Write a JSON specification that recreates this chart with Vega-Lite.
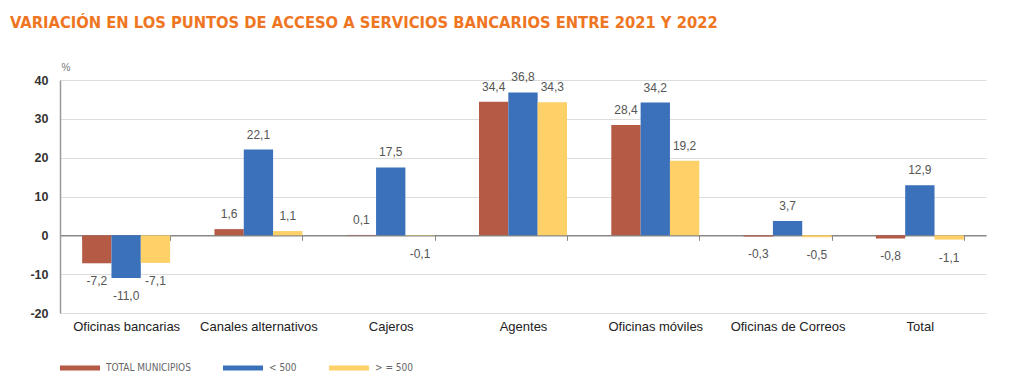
{
  "$schema": "https://vega.github.io/schema/vega-lite/v6.json",
  "width": 926,
  "height": 233,
  "autosize": {"type": "none"},
  "padding": {"left": 60, "top": 80, "right": 38, "bottom": 76},
  "background": "white",
  "config": {
    "locale": {"number": {"decimal": ",", "thousands": ".", "grouping": [3], "currency": ["", " €"], "minus": "-"}},
    "view": {"stroke": null},
    "font": "Liberation Sans"
  },
  "title": {
    "text": "VARIACIÓN EN LOS PUNTOS DE ACCESO A SERVICIOS BANCARIOS ENTRE 2021 Y 2022",
    "anchor": "start",
    "frame": "group",
    "font": "DejaVu Sans Condensed",
    "fontSize": 16.4,
    "fontWeight": "bold",
    "color": "#EE7623",
    "baseline": "alphabetic",
    "dx": -50,
    "dy": 20,
    "offset": 38
  },
  "data": {
    "values": [
      {"categoria": "Oficinas bancarias", "grupo": "TOTAL MUNICIPIOS", "valor": -7.2},
      {"categoria": "Oficinas bancarias", "grupo": "< 500", "valor": -11.0},
      {"categoria": "Oficinas bancarias", "grupo": "> = 500", "valor": -7.1},
      {"categoria": "Canales alternativos", "grupo": "TOTAL MUNICIPIOS", "valor": 1.6},
      {"categoria": "Canales alternativos", "grupo": "< 500", "valor": 22.1},
      {"categoria": "Canales alternativos", "grupo": "> = 500", "valor": 1.1},
      {"categoria": "Cajeros", "grupo": "TOTAL MUNICIPIOS", "valor": 0.1},
      {"categoria": "Cajeros", "grupo": "< 500", "valor": 17.5},
      {"categoria": "Cajeros", "grupo": "> = 500", "valor": -0.1},
      {"categoria": "Agentes", "grupo": "TOTAL MUNICIPIOS", "valor": 34.4},
      {"categoria": "Agentes", "grupo": "< 500", "valor": 36.8},
      {"categoria": "Agentes", "grupo": "> = 500", "valor": 34.3},
      {"categoria": "Oficinas móviles", "grupo": "TOTAL MUNICIPIOS", "valor": 28.4},
      {"categoria": "Oficinas móviles", "grupo": "< 500", "valor": 34.2},
      {"categoria": "Oficinas móviles", "grupo": "> = 500", "valor": 19.2},
      {"categoria": "Oficinas de Correos", "grupo": "TOTAL MUNICIPIOS", "valor": -0.3},
      {"categoria": "Oficinas de Correos", "grupo": "< 500", "valor": 3.7},
      {"categoria": "Oficinas de Correos", "grupo": "> = 500", "valor": -0.5},
      {"categoria": "Total", "grupo": "TOTAL MUNICIPIOS", "valor": -0.8},
      {"categoria": "Total", "grupo": "< 500", "valor": 12.9},
      {"categoria": "Total", "grupo": "> = 500", "valor": -1.1}
    ]
  },
  "encoding": {
    "x": {
      "field": "categoria",
      "type": "nominal",
      "sort": ["Oficinas bancarias", "Canales alternativos", "Cajeros", "Agentes", "Oficinas móviles", "Oficinas de Correos", "Total"],
      "scale": {"paddingInner": 0.335, "paddingOuter": 0.1675},
      "axis": {
        "title": null,
        "offset": -77.67,
        "domainColor": "#888888",
        "domainWidth": 1.5,
        "tickBand": "extent",
        "tickColor": "#888888",
        "tickSize": 5,
        "labelPadding": 80,
        "labelAngle": 0,
        "labelFontSize": 13,
        "labelColor": "#222222",
        "labelBaseline": "top"
      }
    },
    "xOffset": {
      "field": "grupo",
      "type": "nominal",
      "sort": ["TOTAL MUNICIPIOS", "< 500", "> = 500"],
      "scale": {"paddingInner": 0, "paddingOuter": 0}
    },
    "y": {
      "field": "valor",
      "type": "quantitative",
      "scale": {"domain": [-20, 40], "nice": false, "zero": true},
      "axis": {
        "title": "%",
        "titleAngle": 0,
        "titleAlign": "left",
        "titleBaseline": "bottom",
        "titleX": 1,
        "titleY": -8,
        "titleFontSize": 10,
        "titleFontWeight": "normal",
        "titleColor": "#777777",
        "values": [-20, -10, 0, 10, 20, 30, 40],
        "format": "d",
        "labelFontSize": 12.5,
        "labelFontWeight": "bold",
        "labelColor": "#333333",
        "labelPadding": 12,
        "ticks": false,
        "domainColor": "#999999",
        "domainWidth": 1.5,
        "gridColor": "#dddddd",
        "gridWidth": 1
      }
    }
  },
  "layer": [
    {
      "mark": {"type": "bar"},
      "encoding": {
        "color": {
          "field": "grupo",
          "type": "nominal",
          "sort": ["TOTAL MUNICIPIOS", "< 500", "> = 500"],
          "scale": {"domain": ["TOTAL MUNICIPIOS", "< 500", "> = 500"], "range": ["#B45A45", "#3B70BA", "#FDD068"]},
          "legend": {
            "title": null,
            "orient": "none",
            "direction": "horizontal",
            "legendX": 0,
            "legendY": 268,
            "symbolType": "M-1,-0.12L1,-0.12L1,0.12L-1,0.12Z",
            "symbolSize": 1600,
            "symbolStrokeWidth": 0,
            "labelFont": "DejaVu Sans Condensed",
            "labelFontSize": 10,
            "labelColor": "#666666",
            "labelOffset": 6,
            "columnPadding": 32
          }
        }
      }
    },
    {
      "transform": [{"filter": "datum.valor >= 0"}],
      "mark": {"type": "text", "baseline": "middle", "dy": -15, "fontSize": 12, "color": "#555555"},
      "encoding": {"text": {"field": "valor", "type": "quantitative", "format": ".1f"}}
    },
    {
      "transform": [{"filter": "datum.valor < 0"}],
      "mark": {"type": "text", "baseline": "middle", "dy": 18, "fontSize": 12, "color": "#555555"},
      "encoding": {"text": {"field": "valor", "type": "quantitative", "format": ".1f"}}
    }
  ]
}
